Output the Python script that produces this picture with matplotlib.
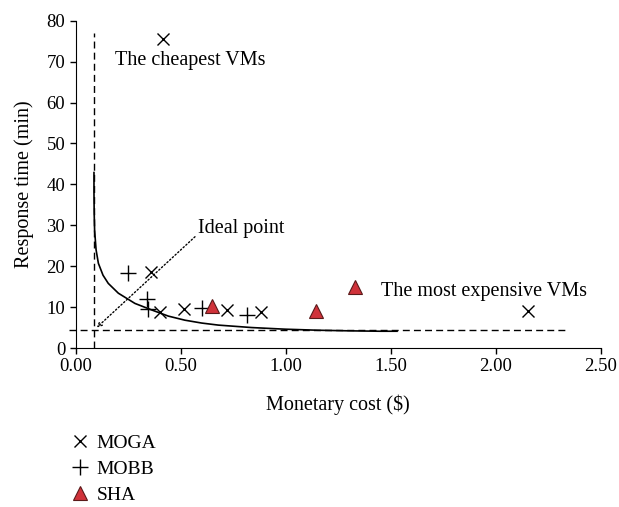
import matplotlib.pyplot as plt
import numpy as np

plt.rcParams['font.family'] = ['Liberation Serif', 'DejaVu Serif']

# MOGA solutions (cost $, time min)
moga_x = [0.414, 0.357, 0.40, 0.517, 0.719, 0.882, 2.155]
moga_y = [75.6, 18.5, 8.9, 9.5, 9.3, 8.9, 9.1]
# MOBB solutions
mobb_x = [0.247, 0.338, 0.346, 0.60, 0.817]
mobb_y = [18.3, 12.1, 9.5, 9.7, 8.1]
# SHA solutions
sha_x = [0.647, 1.143, 1.33]
sha_y = [10.2, 9.1, 14.8]

# Pareto front curve
front_x = [0.087, 0.087, 0.088, 0.09, 0.097, 0.108, 0.13, 0.155, 0.203, 0.282,
           0.362, 0.441, 0.52, 0.60, 0.679, 0.838, 0.997, 1.15, 1.30, 1.45, 1.53]
front_y = [42.9, 38.0, 33.0, 28.8, 24.0, 20.7, 17.8, 15.8, 13.4, 10.9,
           9.3, 7.8, 6.8, 6.1, 5.6, 5.0, 4.6, 4.35, 4.2, 4.1, 4.1]

min_cost = 0.085
min_time = 4.3

fig = plt.figure(figsize=(6.19, 5.07), dpi=100)
ax = fig.add_axes([0.1223, 0.3136, 0.8482, 0.6454])

dash = (0, (5, 3))
ax.plot([min_cost, min_cost], [0, 77], color='black', lw=1.0, linestyle=dash)
ax.plot([-0.03, 2.33], [min_time, min_time], color='black', lw=1.0,
        linestyle=dash, clip_on=False)
ax.plot(front_x, front_y, color='black', lw=1.2)

ax.plot(moga_x, moga_y, 'x', color='black', ms=9, mew=1.0, label='MOGA')
ax.plot(mobb_x, mobb_y, '+', color='black', ms=11, mew=1.0, label='MOBB')
ax.plot(sha_x, sha_y, '^', color='#d0323a', mec='#5a1a1a', mew=0.8, ms=10,
        label='SHA')

fs = 14.5
ax.text(0.187, 70.4, 'The cheapest VMs', fontsize=fs, va='center')
ax.text(1.452, 13.9, 'The most expensive VMs', fontsize=fs, va='center')
ax.text(0.583, 29.1, 'Ideal point', fontsize=fs, va='center')
ax.annotate('', xy=(0.1, 5.0), xytext=(0.568, 27.2),
            arrowprops=dict(arrowstyle='->,head_length=0.3,head_width=0.15',
                            linestyle=':', lw=1.0,
                            color='black', shrinkA=0, shrinkB=0))

ax.set_xlim(0, 2.5)
ax.set_ylim(0, 80)
ax.set_xticks(np.arange(0, 2.51, 0.5))
ax.set_xticklabels(['0.00', '0.50', '1.00', '1.50', '2.00', '2.50'])
ax.set_yticks(range(0, 81, 10))
ax.tick_params(direction='out', length=4, width=1, labelsize=13.5)
ax.spines['top'].set_visible(False)
ax.spines['right'].set_visible(False)
ax.set_xlabel('Monetary cost ($)', fontsize=fs, labelpad=14)
ax.set_ylabel('Response time (min)', fontsize=fs, labelpad=9)

fig.legend(loc='upper left', bbox_to_anchor=(0.092, 0.171), frameon=False,
           fontsize=14, handletextpad=0.35, labelspacing=0.45,
           handlelength=1.0, borderaxespad=0.3)

fig.savefig('out.png', dpi=100)
